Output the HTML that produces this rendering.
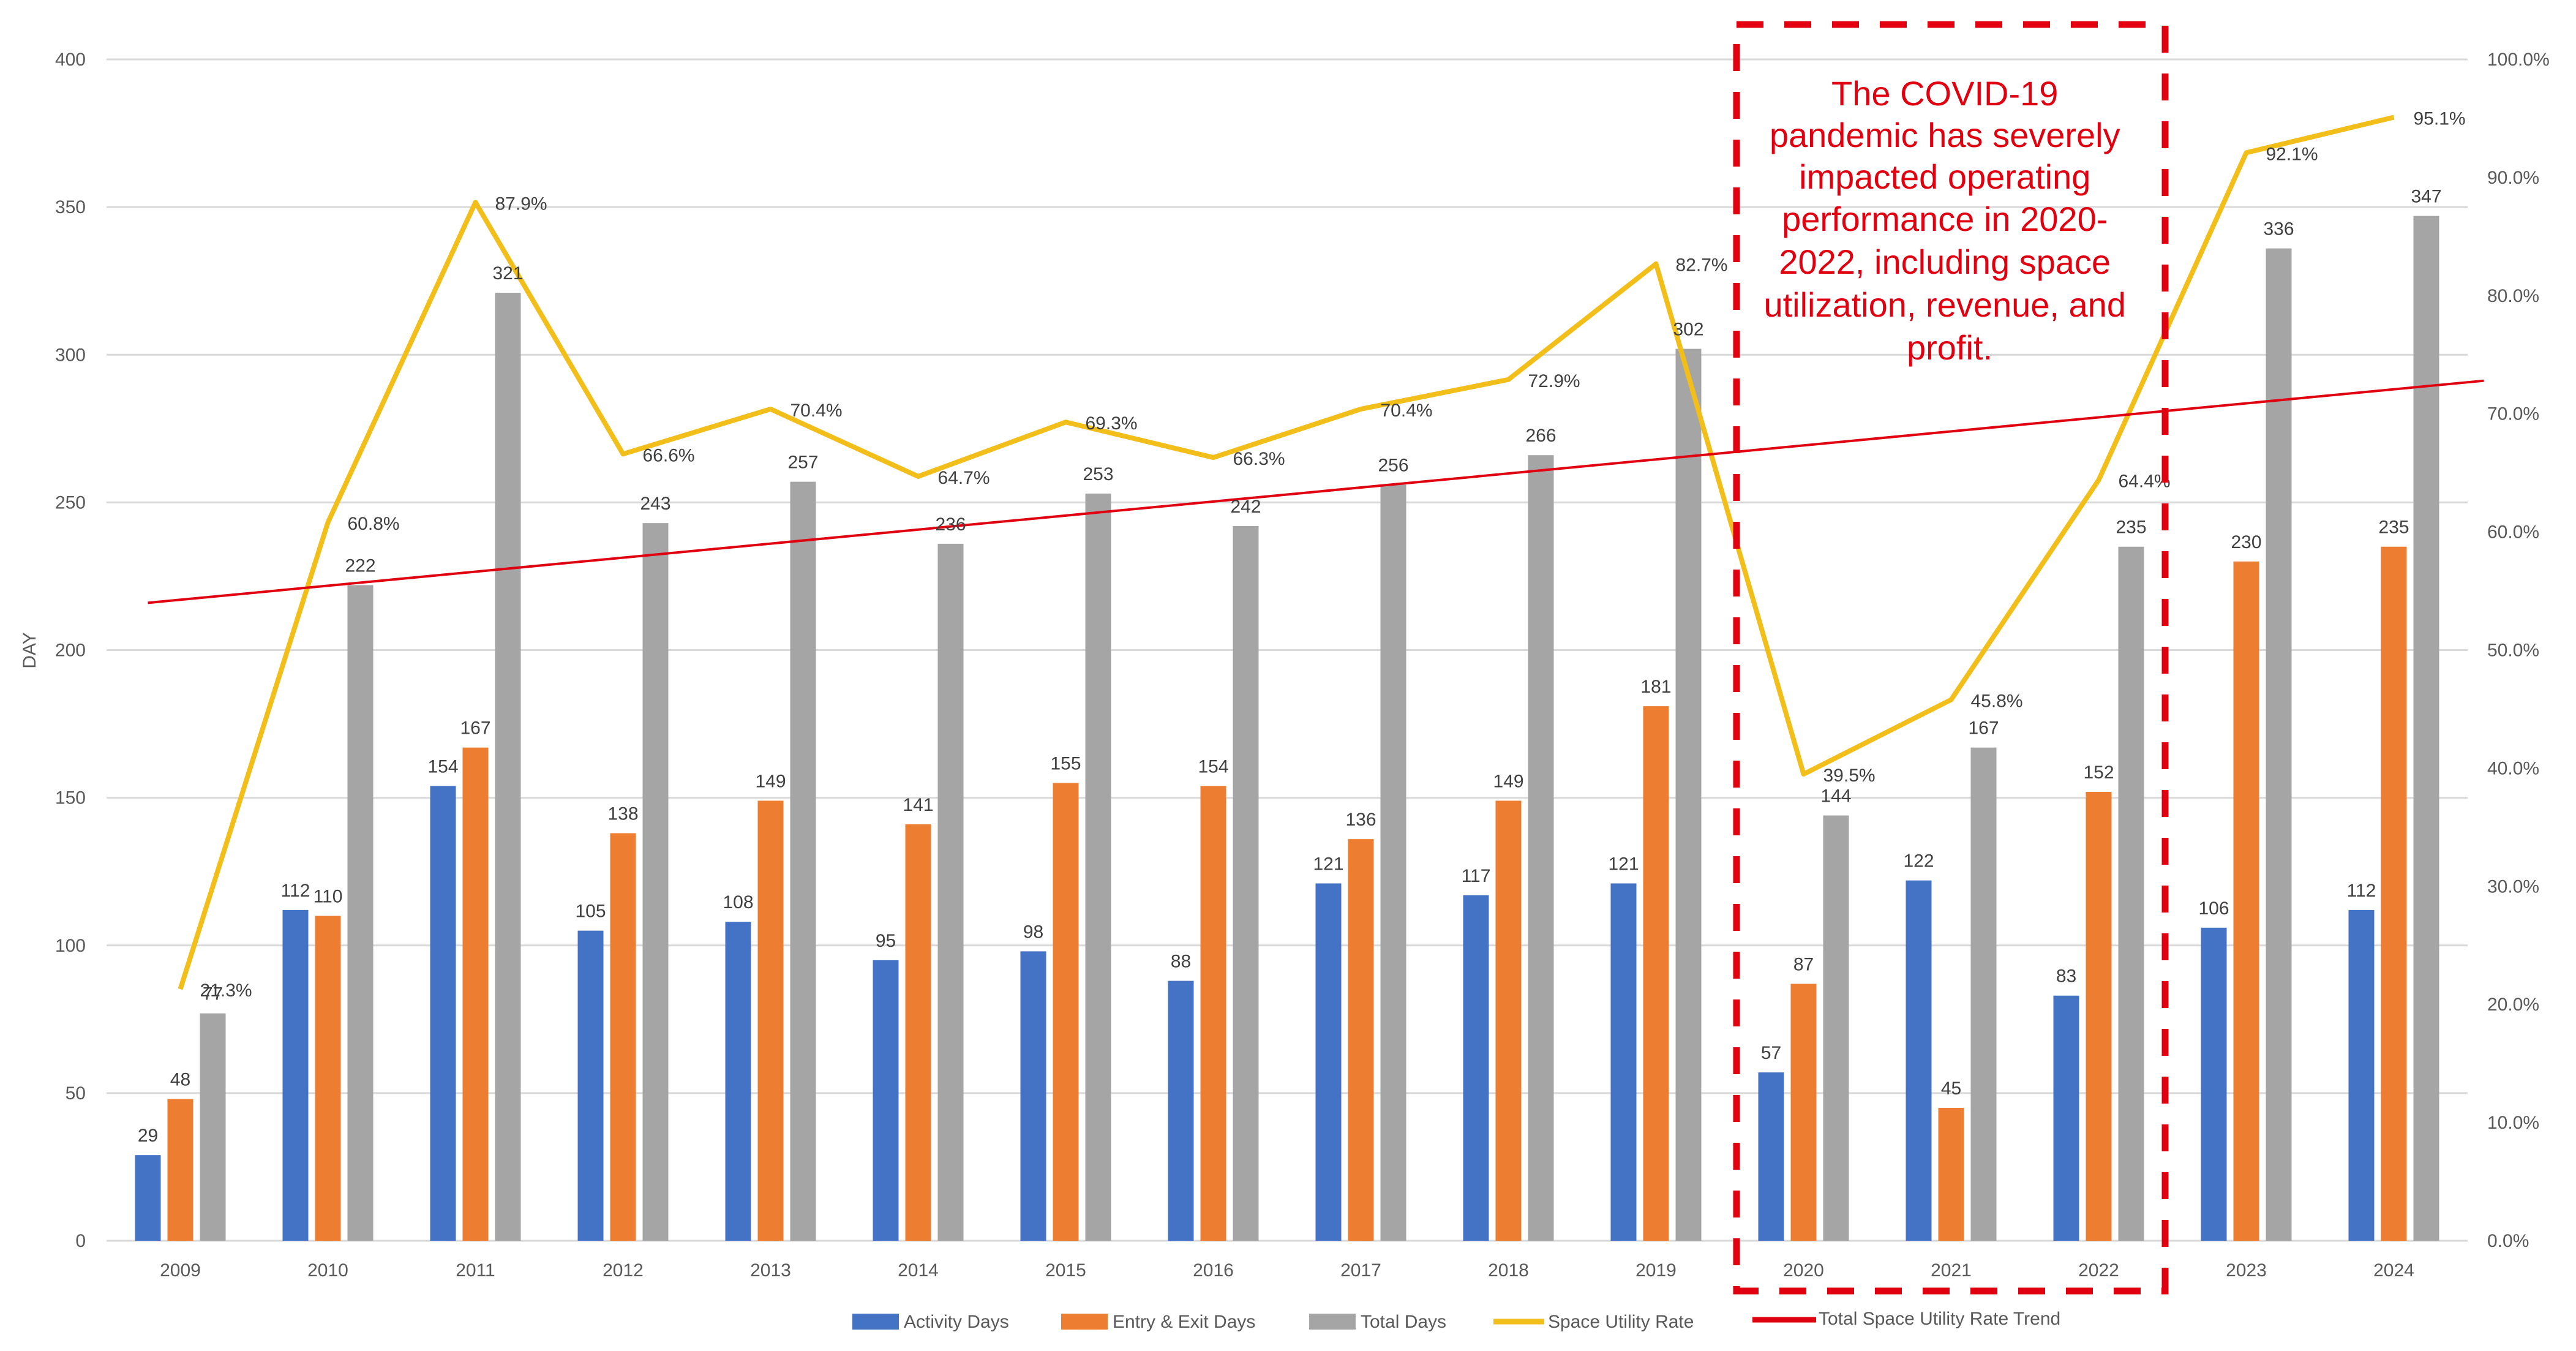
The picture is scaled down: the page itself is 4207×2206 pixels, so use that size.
<!DOCTYPE html>
<html><head><meta charset="utf-8">
<style>
html,body{margin:0;padding:0;background:#fff;}
svg{display:block;font-family:"Liberation Sans","Noto Sans CJK TC",sans-serif;}
</style></head>
<body>
<svg id="chart" width="4207" height="2206" viewBox="0 0 4207 2206" xmlns="http://www.w3.org/2000/svg">
<rect x="0" y="0" width="4207" height="2206" fill="#fff"/>
<g id="grid"></g>
<g id="bars"></g>
<g id="lines"></g>
<g id="labels"></g>
<text x="58" y="1062" transform="rotate(-90 58 1062)" text-anchor="middle" font-size="30" fill="#595959">DAY</text>
<g>
<rect x="2836" y="40" width="700" height="2068" fill="none" stroke="#E00010" stroke-width="11" stroke-dasharray="44 34"/>
<text text-anchor="middle" font-size="56" fill="#E00010">
<tspan x="3184" y="172">The COVID-19</tspan>
<tspan x="3184" y="240">pandemic has severely</tspan>
<tspan x="3184" y="308">impacted operating</tspan>
<tspan x="3184" y="377">performance in 2020-</tspan>
<tspan x="3184" y="447">2022, including space</tspan>
<tspan x="3184" y="517">utilization, revenue, and</tspan>
<tspan x="3184" y="587">profit.</tspan>
</text>
</g>
<g>
<g>
<rect x="1392" y="2145" width="76" height="26" fill="#4472C4"/>
<text x="1476" y="2168" font-size="30" fill="#595959">Activity Days</text></g>
<g>
<rect x="1733" y="2145" width="76" height="26" fill="#ED7D31"/>
<text x="1817" y="2168" font-size="30" fill="#595959">Entry &amp; Exit Days</text></g>
<g>
<rect x="2138" y="2145" width="76" height="26" fill="#A5A5A5"/>
<text x="2222" y="2168" font-size="30" fill="#595959">Total Days</text></g>
<g>
<line x1="2439" y1="2158" x2="2522" y2="2158" stroke="#F2BE1A" stroke-width="9"/>
<text x="2528" y="2168" font-size="30" fill="#595959">Space Utility Rate</text></g>
<g>
<line x1="2862" y1="2155" x2="2966" y2="2155" stroke="#E00010" stroke-width="9"/>
<text x="2970" y="2163" font-size="30" fill="#595959">Total Space Utility Rate Trend</text></g>
</g>
</svg>
<script>
const categories = ["2009","2010","2011","2012","2013","2014","2015","2016","2017","2018","2019","2020","2021","2022","2023","2024"];
const activityDays = [29,112,154,105,108,95,98,88,121,117,121,57,122,83,106,112];
const entryExitDays = [48,110,167,138,149,141,155,154,136,149,181,87,45,152,230,235];
const totalDays = [77,222,321,243,257,236,253,242,256,266,302,144,167,235,336,347];
const utilityRate = [21.3,60.8,87.9,66.6,70.4,64.7,69.3,66.3,70.4,72.9,82.7,39.5,45.8,64.4,92.1,95.1];
const leftTicks = [0,50,100,150,200,250,300,350,400];
const rightTicks = [0,10,20,30,40,50,60,70,80,90,100];
const trendIndex = [-0.22, 15.61];
const trendValues = [54.0, 72.8];

const NS = "http://www.w3.org/2000/svg";
const X0 = 174, X1 = 4030, Y0 = 2026, Y1 = 97;
const band = (X1 - X0) / categories.length;
const xC = i => X0 + band * (i + 0.5);
const yL = v => Y0 - (v / 400) * (Y0 - Y1);
const yR = v => Y0 - (v / 100) * (Y0 - Y1);
function mk(tag, attrs, parent, txt){
  const e = document.createElementNS(NS, tag);
  for (const k in attrs) e.setAttribute(k, attrs[k]);
  if (txt !== undefined) e.textContent = txt;
  parent.appendChild(e); return e;
}
const grid = document.getElementById("grid");
const bars = document.getElementById("bars");
const lines = document.getElementById("lines");
const labels = document.getElementById("labels");

leftTicks.forEach(t => {
  const l = mk("line", {x1:X0, x2:X1, y1:yL(t), y2:yL(t), stroke:"#D9D9D9", "stroke-width":3}, grid);
  
  
  const tx = mk("text", {x:140, y:yL(t)+10, "text-anchor":"end", "font-size":30, fill:"#595959"}, grid, String(t));
  
  
});
rightTicks.forEach(t => {
  const tx = mk("text", {x:4062, y:yR(t)+10, "font-size":30, fill:"#595959"}, grid, t.toFixed(1) + "%");
  
  
});

const series = [[activityDays,"#4472C4","activity"],[entryExitDays,"#ED7D31","entry-exit"],[totalDays,"#A5A5A5","total"]];
const bw = 42, step = 53;
categories.forEach((c, i) => {
  series.forEach((s, k) => {
    const v = s[0][i];
    const cx = xC(i) + (k - 1) * step;
    const r = mk("rect", {x:cx - bw/2, y:yL(v), width:bw, height:Y0 - yL(v), fill:s[1]}, bars);
    
    
    const t = mk("text", {x:cx, y:yL(v) - 22, "text-anchor":"middle", "font-size":30, fill:"#404040"}, labels, String(v));
    
    
  });
  const xl = mk("text", {x:xC(i), y:2084, "text-anchor":"middle", "font-size":30, fill:"#595959"}, labels, c);
  
  
});

const pts = utilityRate.map((v, i) => xC(i) + "," + yR(v)).join(" ");
const pl = mk("polyline", {points:pts, fill:"none", stroke:"#F2BE1A", "stroke-width":8, "stroke-linejoin":"round"}, lines);


const tr = mk("line", {x1:xC(trendIndex[0]), y1:yR(trendValues[0]), x2:xC(trendIndex[1]), y2:yR(trendValues[1]), stroke:"#E00010", "stroke-width":4}, lines);


utilityRate.forEach((v, i) => {
  const t = mk("text", {x:xC(i) + 32, y:yR(v) + 12, "font-size":30, fill:"#404040"}, labels, v.toFixed(1) + "%");
  
  
});
</script>
</body></html>
